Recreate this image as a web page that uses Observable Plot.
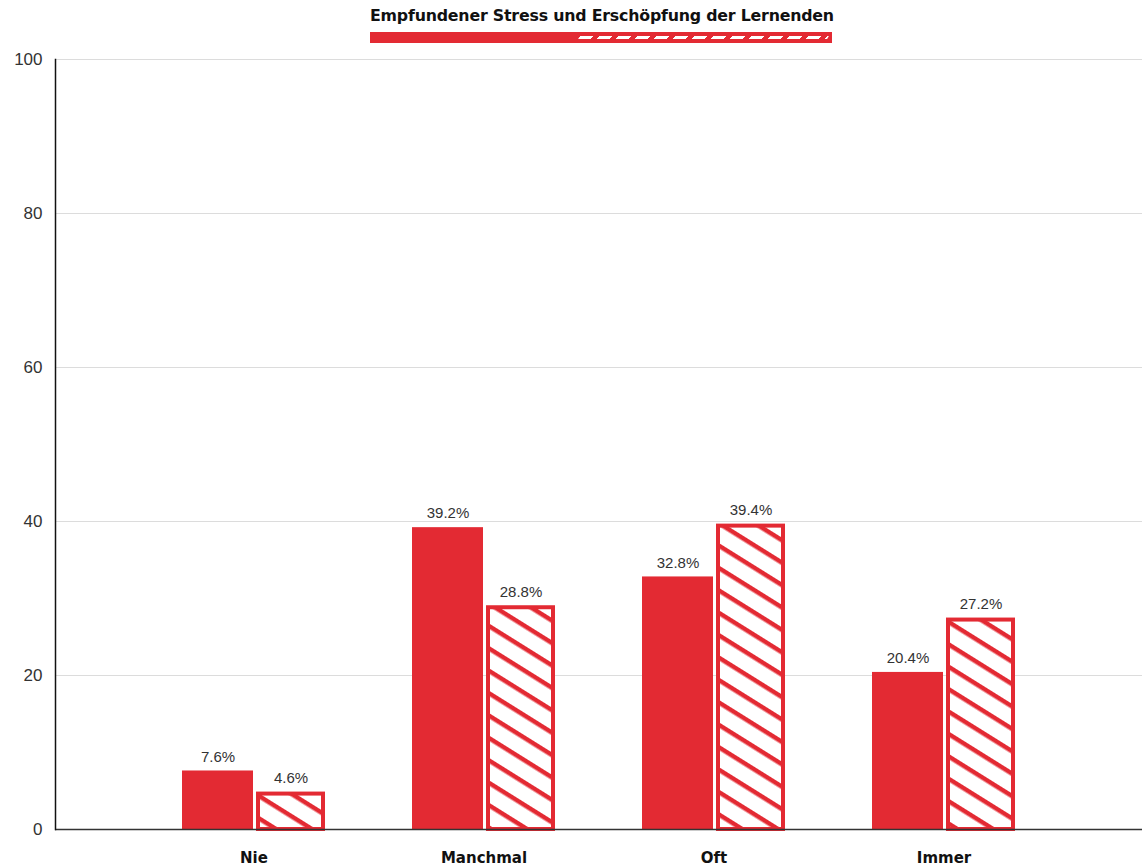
<!DOCTYPE html>
<html>
<head>
<meta charset="utf-8">
<script src="https://cdn.jsdelivr.net/npm/d3@7"></script>
<script src="https://cdn.jsdelivr.net/npm/@observablehq/plot@0.6"></script>
<style>
  html, body { margin: 0; padding: 0; background: #fff; }
  #wrap { width: 1142px; position: relative; }
  #title { width: 462px; margin-left: 370px; text-align: center; white-space: nowrap; font-family: "DejaVu Sans", sans-serif; font-weight: bold; font-size: 15.8px; color: #111; padding-top: 6px; height: 19px; line-height: 19px; letter-spacing: -0.2px; }
  #legend { display: flex; width: 462px; height: 11px; margin: 7px 0 0 370px; }
  #legend .solid { width: 205px; background: #e32a33; }
  #legend .hatch { width: 257px; background: #e32a33; position: relative; }
  #legend .hatch::after { content: ""; position: absolute; left: 4px; right: 4px; top: 4px; height: 3px;
    background: repeating-linear-gradient(90deg, #fff 0 13px, transparent 13px 19px); transform: skewX(-30deg); }
  #chart { margin-top: 6px; }
</style>
</head>
<body>
<div id="wrap">
  <div id="title">Empfundener Stress und Erschöpfung der Lernenden</div>
  <div id="legend"><div class="solid"></div><div class="hatch"></div></div>
  <div id="chart"></div>
</div>
<script>
const categories = ["Nie", "Manchmal", "Oft", "Immer"];
const seriesA = [7.6, 39.2, 32.8, 20.4];   // solid bars
const seriesB = [4.6, 28.8, 39.4, 27.2];   // hatched bars
const yTicks = [0, 20, 40, 60, 80, 100];

const red = "#e32a33";
const dataA = categories.map((c, i) => ({cat: c, v: seriesA[i]}));
const dataB = categories.map((c, i) => ({cat: c, v: seriesB[i]}));
const fmt = d => d.v.toFixed(1) + "%";

const chart = Plot.plot({
  width: 1142,
  height: 817,
  marginLeft: 55,
  marginRight: 0,
  marginTop: 10,
  marginBottom: 37,
  style: {fontFamily: "'Liberation Sans', Arial, sans-serif", background: "#fff"},
  x: {domain: categories, paddingInner: 0.377, paddingOuter: 0.55, label: null, axis: null},
  y: {domain: [0, 100], label: null, axis: null},
  marks: [
    Plot.gridY(yTicks, {stroke: "#dcdcdc", strokeOpacity: 1}),
    Plot.axisY(yTicks, {tickSize: 0, tickPadding: 13, fontSize: 17, fill: "#333", label: null}),
    Plot.axisX({tickSize: 0, tickPadding: 23, fontSize: 15, fontWeight: "bold", fontFamily: "'DejaVu Sans', sans-serif", fill: "#111", label: null}),
    Plot.barY(dataA, {x: "cat", y: "v", fill: red, insetRight: 72}),
    Plot.barY(dataB, {x: "cat", y: "v", fill: "url(#hatch)", stroke: red, strokeWidth: 4, insetLeft: 76, insetRight: 2}),
    Plot.text(dataA, {x: "cat", y: "v", text: fmt, dx: -36, dy: -14, fontSize: 15, fill: "#333"}),
    Plot.text(dataB, {x: "cat", y: "v", text: fmt, dx: 37, dy: -16, fontSize: 15, fill: "#333"}),
    Plot.ruleY([0], {stroke: "#333", strokeWidth: 1.5}),
    Plot.frame({anchor: "left", stroke: "#111", strokeWidth: 1.5})
  ]
});

// hatch pattern definition (shallow "\" stripes)
const ns = "http://www.w3.org/2000/svg";
const defs = document.createElementNS(ns, "defs");
defs.innerHTML = `<pattern id="hatch" patternUnits="userSpaceOnUse" width="40" height="19" patternTransform="rotate(32)">
  <rect width="40" height="19" fill="#fff"/>
  <rect x="0" y="0" width="40" height="4.5" fill="${red}"/>
</pattern>`;
chart.insertBefore(defs, chart.firstChild);

document.getElementById("chart").appendChild(chart);
</script>
</body>
</html>
